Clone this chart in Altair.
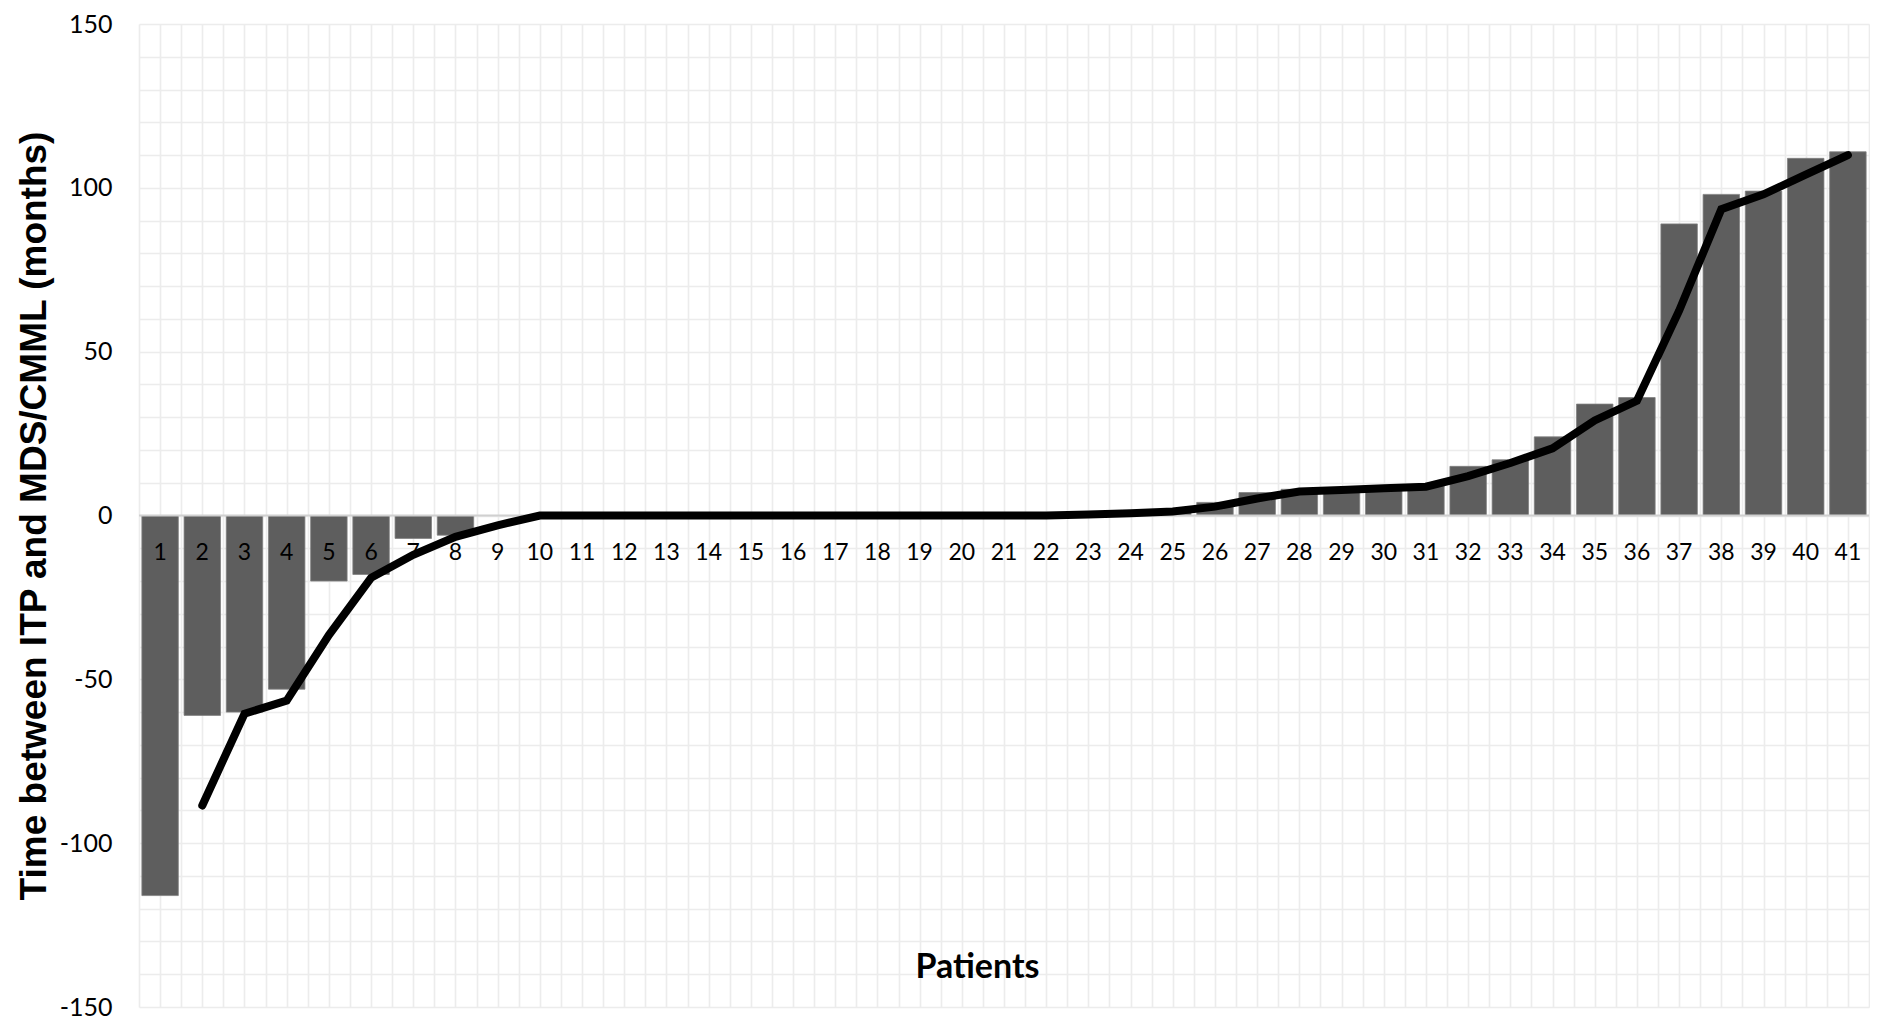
import altair as alt
import pandas as pd

# ---- data ----
patients = list(range(1, 42))
months = [-116, -61, -60, -53, -20, -18, -7, -6, 0, 0,
          0, 0, 0, 0, 0, 0, 0, 0, 0, 0,
          0, 0, 0, 1, 1, 4, 7, 8, 8, 8.5,
          9, 15, 17, 24, 34, 36, 89, 98, 99, 109,
          111]
trend_patients = list(range(2, 42))
trend = [-88.5, -60.5, -56.5, -36.5, -19, -12, -6.5, -3, 0,
         0, 0, 0, 0, 0, 0, 0, 0, 0, 0, 0, 0,
         0.3, 0.7, 1.2, 2.7, 5.2, 7.3, 7.8, 8.3, 8.8,
         12, 16, 20.5, 29, 35, 62.5, 93.5, 98, 104, 110]

y_title = "Time between ITP and MDS/CMML (months)"
x_title = "Patients"

bars_df = pd.DataFrame({"patient": patients, "months": months})
trend_df = pd.DataFrame({"patient": trend_patients, "trend": trend})
zero_df = pd.DataFrame({"zero": [0]})

GRID = "#ececec"

x_scale = alt.Scale(domain=[0.5, 41.5], nice=False, zero=False)
y_scale = alt.Scale(domain=[-150, 150], nice=False)
grid_x = [0.5 + 0.5 * i for i in range(83)]
grid_y = list(range(-150, 151, 10))

bars = alt.Chart(bars_df).transform_calculate(
    x0="datum.patient - 0.432", x1="datum.patient + 0.432"
).mark_bar(color="#5e5e5e", stroke="#808080", strokeWidth=0.8).encode(
    x=alt.X("x0:Q", scale=x_scale, title=x_title,
            axis=alt.Axis(values=grid_x, tickCount=500, labels=False, ticks=False,
                          domain=False, grid=True, gridColor=GRID, gridWidth=1.6,
                          title=x_title, titleFont="Lato", titleFontSize=34,
                          titleFontWeight="bold", titleColor="#000",
                          titleX=838, titleY=-40, titleBaseline="middle",
                          titleAlign="center")),
    x2="x1:Q",
    y=alt.Y("months:Q", scale=y_scale, title=y_title,
            axis=alt.Axis(values=grid_y, tickCount=500,
                          labelExpr="datum.value % 50 == 0 ? '' + datum.value : ''",
                          labelOverlap=False,
                          labelFont="Lato", labelFontSize=25, labelColor="#000",
                          labelPadding=27, ticks=False, domain=False,
                          grid=True, gridColor=GRID, gridWidth=1.6,
                          title=y_title, titleFont="Liberation Sans",
                          titleFontSize=37, titleFontWeight="bold",
                          titleColor="#000", titlePadding=6)),
    y2=alt.datum(0),
)

zero_rule = alt.Chart(zero_df).mark_rule(color="#d0d0d0", strokeWidth=2).encode(
    y=alt.Y("zero:Q", scale=y_scale, title=y_title)
)

labels = alt.Chart(bars_df).mark_text(
    font="Lato", fontSize=23, color="#000", dy=37, baseline="middle"
).encode(
    x=alt.X("patient:Q", scale=x_scale, title=x_title),
    y=alt.datum(0),
    text="patient:N",
)

line = alt.Chart(trend_df).mark_line(
    color="#000", strokeWidth=8, strokeCap="round", strokeJoin="miter"
).encode(
    x=alt.X("patient:Q", scale=x_scale, title=x_title),
    y=alt.Y("trend:Q", scale=y_scale, title=y_title),
)

chart = alt.layer(bars, zero_rule, labels, line).properties(
    width=1862, height=1012,
    autosize=alt.AutoSizeParams(type="fit", contains="padding"),
    padding={"left": 7, "top": 4, "right": 0, "bottom": 0},
    background="white",
).configure_view(stroke=None)

chart.save("out.html", embed_options={"renderer": "svg", "actions": False})
